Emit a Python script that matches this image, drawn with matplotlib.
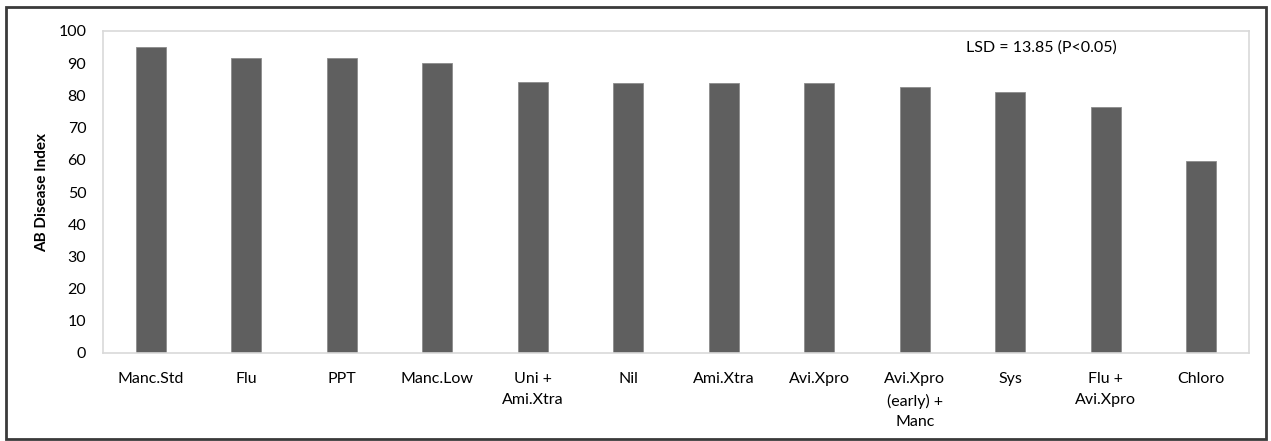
import matplotlib.pyplot as plt
from matplotlib.patches import Rectangle
import numpy as np

plt.rcParams['font.family'] = ['Lato', 'DejaVu Sans']

# treatments and disease index values
treatments = ['Manc.Std', 'Flu', 'PPT', 'Manc.Low', 'Uni +\nAmi.Xtra', 'Nil',
              'Ami.Xtra', 'Avi.Xpro', 'Avi.Xpro\n(early) +\nManc', 'Sys',
              'Flu +\nAvi.Xpro', 'Chloro']
disease_index = [95.0, 91.6, 91.6, 90.0, 84.2, 83.7, 83.7, 83.7, 82.6, 81.0, 76.4, 59.6]
yticks = [0, 10, 20, 30, 40, 50, 60, 70, 80, 90, 100]

fig = plt.figure(figsize=(12.71, 4.41), dpi=100)
ax = fig.add_axes([103 / 1271, 1 - 353 / 441, 1146 / 1271, 322 / 441])

x = np.arange(len(treatments))
ax.bar(x, disease_index, width=0.31, color='#5f5f5f', edgecolor='#8c8c8c', linewidth=0.6, zorder=2)

ax.set_xlim(-0.5, len(treatments) - 0.5)
ax.set_ylim(0, 100)
ax.set_yticks(yticks)
ax.set_xticks(x)
ax.set_xticklabels(treatments, fontsize=11.5, va='top', linespacing=1.6)
ax.tick_params(axis='y', labelsize=11.5, length=0, pad=12)
ax.tick_params(axis='x', length=0, pad=14)
for s in ax.spines.values():
    s.set_color('#d9d9d9')
    s.set_linewidth(1.2)

ax.set_ylabel('AB Disease Index', fontsize=11, fontweight='bold', labelpad=7)
ax.text(0.819, 0.95, 'LSD = 13.85 (P<0.05)', transform=ax.transAxes,
        ha='center', va='center', fontsize=11.5)

# outer chart frame
fig.patches.append(Rectangle((6 / 1271, 2 / 441), 1260 / 1271, 432 / 441,
                             transform=fig.transFigure, fill=False,
                             edgecolor='#3a3a3a', linewidth=2))

fig.savefig('out.png', dpi=100)
